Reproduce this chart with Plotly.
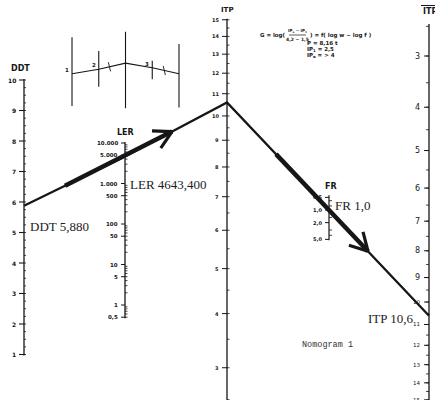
import numpy as np
import plotly.graph_objects as go

# ---------------- data ----------------
ddt_ticks = [1, 2, 3, 4, 5, 6, 7, 8, 9, 10]
ler_ticks = [0.5, 1, 5, 10, 50, 100, 500, 1000, 5000, 10000]
ler_tick_labels = ["0,5", "1", "5", "10", "50", "100", "500", "1.000", "5.000", "10.000"]
itp_ticks = [3, 4, 5, 6, 7, 8, 9, 10, 11, 12, 13, 14, 15]
itpbar_ticks = [3, 4, 5, 6, 7, 8, 9, 10, 11, 12, 13, 14, 15]
fr_ticks = [0.5, 1.0, 2.0, 5.0]
fr_tick_labels = ["0,5", "1,0", "2,0", "5,0"]

ddt_value = 5.880
ler_value = 4643.400
itp_value = 10.6
fr_value = 1.0
reading_labels = ["DDT 5,880", "LER 4643,400", "FR 1,0", "ITP 10,6"]

# small schematic inset (values on a 0..10 scale)
inset_x = [0, 1, 2, 3, 4]
inset_path = [4.5, 5.1, 5.9, 5.3, 4.5]
inset_hi = [9.3, 7.5, 10.0, 6.2, 8.4]
inset_lo = [0.3, 2.8, 0.0, 3.8, 0.1]
inset_labels = ["1", "2", "", "3", ""]

formula_lines = ["P = 8,16 t", "IP<sub>1</sub> = 2,5", "IP<sub>e</sub> = > 4"]

# ---------------- nomogram scales (page geometry) ----------------
W, H = 435, 400
X_DDT, X_LER, X_ITP, X_FR, X_BAR = 24, 125, 227, 329, 429


def s_ddt(v):
    return 80 + (10 - np.asarray(v, float)) * 30.5


def s_ler(v):
    return 305 - 40.5 * np.log10(np.asarray(v, float))


def s_itp(v):
    return 759.6 - 609 * np.log10(np.asarray(v, float) + 1.4)


def s_bar(v):
    return 56 + 647 * np.log10((np.asarray(v, float) + 2) / 5)


def s_fr(v):
    return 210 + 42 * np.log10(np.asarray(v, float))


INK = "#161616"
fig = go.Figure()


def add_lines(xs, ys, width, color=INK):
    fig.add_trace(go.Scatter(x=xs, y=ys, mode="lines", line=dict(color=color, width=width),
                             hoverinfo="skip", showlegend=False))


def tick_segments(x0, vals, scale, length, side):
    xs, ys = [], []
    for v in vals:
        y = float(scale(v))
        xs += [x0, x0 + side * length, None]
        ys += [y, y, None]
    return xs, ys


def label(x, y, text, size=6, anchor="right", family="DejaVu Sans", weight="bold", color=INK):
    fig.add_annotation(x=x, y=y, text=text, showarrow=False, xanchor=anchor, yanchor="middle",
                       font=dict(family=family, size=size, color=color, weight=weight))


# ---------------- DDT axis ----------------
add_lines([X_DDT, X_DDT], [float(s_ddt(10)) - 1, float(s_ddt(1)) + 1], 1.3)
xs, ys = tick_segments(X_DDT, ddt_ticks, s_ddt, 5, -1)
add_lines(xs, ys, 1.1)
xs, ys = tick_segments(X_DDT, np.arange(1, 10.01, 0.25), s_ddt, 2, 1)
add_lines(xs, ys, 0.8)
for v in ddt_ticks:
    label(X_DDT - 6, float(s_ddt(v)), str(v), size=6)
label(X_DDT - 4, float(s_ddt(10)) - 12, "DDT", size=8, anchor="center")

# ---------------- LER axis ----------------
add_lines([X_LER, X_LER], [float(s_ler(10000)) - 1, float(s_ler(0.5)) + 1], 1.3)
xs, ys = tick_segments(X_LER, ler_ticks, s_ler, 4, -1)
add_lines(xs, ys, 1.0)
ler_minor = [m * 10.0 ** d for d in range(-1, 4) for m in range(2, 10) if 0.5 <= m * 10.0 ** d <= 10000]
xs, ys = tick_segments(X_LER, ler_minor, s_ler, 2.5, 1)
add_lines(xs, ys, 0.8)
for v, t in zip(ler_ticks, ler_tick_labels):
    label(X_LER - 5, float(s_ler(v)), t, size=5.5)
label(X_LER, float(s_ler(10000)) - 11, "LER", size=8, anchor="center")

# ---------------- ITP (middle) axis ----------------
add_lines([X_ITP, X_ITP], [float(s_itp(15)) - 1, H], 1.3)
xs, ys = tick_segments(X_ITP, itp_ticks, s_itp, 5, -1)
add_lines(xs, ys, 1.0)
xs, ys = tick_segments(X_ITP, np.arange(2.5, 15.01, 0.5), s_itp, 2.5, 1)
add_lines(xs, ys, 0.8)
for v in itp_ticks:
    label(X_ITP - 6, float(s_itp(v)), str(v), size=5)
label(X_ITP, float(s_itp(15)) - 10, "ITP", size=7, anchor="center")

# ---------------- FR axis ----------------
add_lines([X_FR, X_FR], [float(s_fr(0.5)) - 2, float(s_fr(5.0)) + 1], 1.2)
xs, ys = tick_segments(X_FR, fr_ticks, s_fr, 4, -1)
add_lines(xs, ys, 1.0)
xs, ys = tick_segments(X_FR, [0.6, 0.8, 1.5, 3, 4], s_fr, 3, 1)
add_lines(xs, ys, 0.8)
for v, t in zip(fr_ticks, fr_tick_labels):
    label(X_FR - 5, float(s_fr(v)), t, size=5)
label(X_FR + 2, float(s_fr(0.5)) - 11, "FR", size=8, anchor="center")

# ---------------- ITP bar (right) axis ----------------
add_lines([X_BAR, X_BAR], [float(s_bar(3)) - 32, H], 1.3)
xs, ys = tick_segments(X_BAR, itpbar_ticks, s_bar, 5, -1)
add_lines(xs, ys, 1.0)
xs, ys = tick_segments(X_BAR, np.arange(2.5, 15.01, 0.5), s_bar, 3, -1)
add_lines(xs, ys, 0.8)
for v in itpbar_ticks:
    label(X_BAR - 7, float(s_bar(v)), str(v), size=8 if v < 10 else 5.5, weight="normal")
label(X_BAR - 8, float(s_bar(3)) - 45, "ITP", size=8, anchor="left")
add_lines([X_BAR - 8, X_BAR + 10], [float(s_bar(3)) - 50.5] * 2, 1.0)

# ---------------- reading line ----------------
path_x = [X_DDT, X_LER, X_ITP, X_FR, X_BAR]
path_y = [float(s_ddt(ddt_value)), float(s_ler(ler_value)), float(s_itp(itp_value)),
          float(s_fr(fr_value)), float(s_bar(itp_value))]
add_lines(path_x, path_y, 2.3)


def on_path(i, x):
    x0, x1, y0, y1 = path_x[i], path_x[i + 1], path_y[i], path_y[i + 1]
    return y0 + (x - x0) * (y1 - y0) / (x1 - x0)


def seg_index(x):
    for i in range(len(path_x) - 1):
        if path_x[i] <= x <= path_x[i + 1]:
            return i
    return len(path_x) - 2


def arrow(xa, xb, width, head_len=20, half_angle=29):
    ia, ib = seg_index(xa), seg_index(xb)
    ya, yb = on_path(ia, xa), on_path(ib, xb)
    add_lines([xa, xb], [ya, yb], width)
    ang = np.arctan2(ya - yb, xa - xb)
    bx, by = [], []
    for s in (-1, 1):
        a = ang + s * np.radians(half_angle)
        bx += [xb + head_len * np.cos(a), xb, None]
        by += [yb + head_len * np.sin(a), yb, None]
    add_lines(bx, by, 3.2)


arrow(65, 172, 4.5)
arrow(276, 368, 4.5)

# reading labels (serif)
SERIF_INK = "#1c1c1c"
label(X_DDT + 4, path_y[0] + 21, reading_labels[0], size=13, anchor="left",
      family="Liberation Serif", weight="normal", color=SERIF_INK)
label(X_LER + 3, path_y[1] + 28, reading_labels[1], size=13, anchor="left",
      family="Liberation Serif", weight="normal", color=SERIF_INK)
label(X_FR + 4, path_y[3] - 5, reading_labels[2], size=13, anchor="left",
      family="Liberation Serif", weight="normal", color=SERIF_INK)
label(X_BAR - 13, path_y[4] + 3, reading_labels[3], size=13, anchor="right",
      family="Liberation Serif", weight="normal", color=SERIF_INK)

# ---------------- formula block ----------------
label(288, 35, "G = log(", size=5.5)
fig.add_annotation(x=297.5, y=30.5, text="IP<sub>o</sub> − IP<sub>1</sub>", showarrow=False,
                   font=dict(family="DejaVu Sans", size=4, color=INK, weight="bold"))
add_lines([289, 306], [35, 35], 0.7)
fig.add_annotation(x=297.5, y=39, text="4,2 − 1,5", showarrow=False,
                   font=dict(family="DejaVu Sans", size=4.5, color=INK, weight="bold"))
label(308, 35, ") = f( log w − log f )", size=5.5, anchor="left")
for k, t in enumerate(formula_lines):
    label(305, 42.5 + 6.5 * k, t, size=5.5, anchor="left")

label(327, 345, "Nomogram 1", size=8.5, anchor="center", family="Liberation Mono",
      weight="normal", color="#333")

# ---------------- schematic inset ----------------
for xi, lo, hi in zip(inset_x, inset_lo, inset_hi):
    fig.add_trace(go.Scatter(x=[xi, xi], y=[lo, hi], mode="lines", xaxis="x2", yaxis="y2",
                             line=dict(color=INK, width=1.1), hoverinfo="skip", showlegend=False))
fig.add_trace(go.Scatter(x=inset_x, y=inset_path, mode="lines", xaxis="x2", yaxis="y2",
                         line=dict(color=INK, width=1.1), hoverinfo="skip", showlegend=False))
for xi, yi, t in zip(inset_x, inset_path, inset_labels):
    if t:
        fig.add_annotation(x=xi - 0.03, y=yi + 0.5, text=t, xref="x2", yref="y2", showarrow=False,
                           xanchor="right", font=dict(family="DejaVu Sans", size=5.5, color=INK,
                                                      weight="bold"))
for xm in (1.4, 3.45):
    i = int(xm)
    ym = inset_path[i] + (xm - i) * (inset_path[i + 1] - inset_path[i])
    fig.add_trace(go.Scatter(x=[xm - 0.04, xm + 0.04], y=[ym + 0.6, ym - 0.6], mode="lines",
                             xaxis="x2", yaxis="y2", line=dict(color=INK, width=0.9),
                             hoverinfo="skip", showlegend=False))

# inset axes: 0..4 spans x = 72..179 px, padded by half a unit either side
UX = (179 - 72) / 4
fig.update_layout(
    width=W, height=H, margin=dict(l=0, r=0, t=0, b=0),
    paper_bgcolor="white", plot_bgcolor="white", showlegend=False,
    xaxis=dict(range=[0, W], visible=False, fixedrange=True),
    yaxis=dict(range=[H, 0], visible=False, fixedrange=True),
    xaxis2=dict(domain=[(72 - 0.5 * UX) / W, (179 + 0.5 * UX) / W], range=[-0.5, 4.5],
                visible=False, anchor="y2"),
    yaxis2=dict(domain=[(H - 112) / H, (H - 28) / H], range=[-0.5, 10.5], visible=False,
                anchor="x2"),
)

fig.write_html("out.html", config={"displayModeBar": False},
               post_script="document.body.style.margin='0';")
